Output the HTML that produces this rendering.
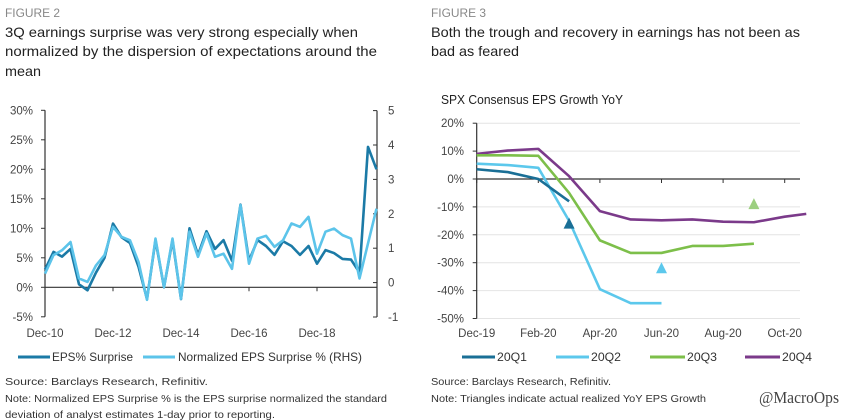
<!DOCTYPE html>
<html><head><meta charset="utf-8">
<style>
html,body{margin:0;padding:0;background:#fff;}
svg{display:block;font-family:"Liberation Sans Narrow","Liberation Sans",sans-serif;}
</style></head>
<body>
<svg id="root" width="843" height="420" viewBox="0 0 843 420" xmlns="http://www.w3.org/2000/svg">
  <g>
    <text x="5" y="17" font-size="12" fill="#888" textLength="55" lengthAdjust="spacingAndGlyphs">FIGURE 2</text>
    <text x="5" y="37" font-size="14" fill="#222" textLength="353" lengthAdjust="spacingAndGlyphs">3Q earnings surprise was very strong especially when</text>
    <text x="5" y="56" font-size="14" fill="#222" textLength="372" lengthAdjust="spacingAndGlyphs">normalized by the dispersion of expectations around the</text>
    <text x="5" y="76" font-size="14" fill="#222" textLength="36" lengthAdjust="spacingAndGlyphs">mean</text>
  </g>
  <g>
    <text x="431" y="17" font-size="12" fill="#888" textLength="55" lengthAdjust="spacingAndGlyphs">FIGURE 3</text>
    <text x="431" y="37" font-size="14" fill="#222" textLength="369" lengthAdjust="spacingAndGlyphs">Both the trough and recovery in earnings has not been as</text>
    <text x="431" y="56" font-size="14" fill="#222" textLength="88" lengthAdjust="spacingAndGlyphs">bad as feared</text>
    <text x="441" y="104" font-size="12.5" fill="#222" textLength="182" lengthAdjust="spacingAndGlyphs">SPX Consensus EPS Growth YoY</text>
  </g>
  <g id="c1"></g>
  <g id="c2"></g>
  <g>
    <line x1="18" y1="357" x2="50" y2="357" stroke="#1b7aa6" stroke-width="3"/>
    <text x="52" y="361" font-size="12" fill="#333" textLength="81" lengthAdjust="spacingAndGlyphs">EPS% Surprise</text>
    <line x1="143" y1="357" x2="175" y2="357" stroke="#5cc4ea" stroke-width="3"/>
    <text x="178" y="361" font-size="12" fill="#333" textLength="184" lengthAdjust="spacingAndGlyphs">Normalized EPS Surprise % (RHS)</text>
  </g>
  <g>
    <line x1="462" y1="357" x2="495" y2="357" stroke="#1a6f96" stroke-width="3"/>
    <text x="497" y="361" font-size="12" fill="#333" textLength="30" lengthAdjust="spacingAndGlyphs">20Q1</text>
    <line x1="556" y1="357" x2="589" y2="357" stroke="#5cc8ec" stroke-width="3"/>
    <text x="591" y="361" font-size="12" fill="#333" textLength="30" lengthAdjust="spacingAndGlyphs">20Q2</text>
    <line x1="650" y1="357" x2="685" y2="357" stroke="#7dbf4a" stroke-width="3"/>
    <text x="687" y="361" font-size="12" fill="#333" textLength="30" lengthAdjust="spacingAndGlyphs">20Q3</text>
    <line x1="745" y1="357" x2="780" y2="357" stroke="#7b3a8a" stroke-width="3"/>
    <text x="782" y="361" font-size="12" fill="#333" textLength="30" lengthAdjust="spacingAndGlyphs">20Q4</text>
  </g>
  <g>
    <text x="5" y="385" font-size="10.5" fill="#333" textLength="203" lengthAdjust="spacingAndGlyphs">Source: Barclays Research, Refinitiv.</text>
    <text x="5" y="402" font-size="10.5" fill="#333" textLength="382" lengthAdjust="spacingAndGlyphs">Note: Normalized EPS Surprise % is the EPS surprise normalized the standard</text>
    <text x="5" y="418" font-size="10.5" fill="#333" textLength="270" lengthAdjust="spacingAndGlyphs">deviation of analyst estimates 1-day prior to reporting.</text>
    <text x="431" y="385" font-size="10.5" fill="#333" textLength="180" lengthAdjust="spacingAndGlyphs">Source: Barclays Research, Refinitiv.</text>
    <text x="431" y="402" font-size="10.5" fill="#333" textLength="275" lengthAdjust="spacingAndGlyphs">Note: Triangles indicate actual realized YoY EPS Growth</text>
    <text x="759" y="403" font-size="17" fill="#444" font-family="Liberation Serif, serif" textLength="80" lengthAdjust="spacingAndGlyphs">@MacroOps</text>
  </g>
</svg>
<script>
const NS="http://www.w3.org/2000/svg";
// Chart 1 data
const c1XLabels=["Dec-10","Dec-12","Dec-14","Dec-16","Dec-18"];
const c1LeftTicks=[30,25,20,15,10,5,0,-5];
const c1RightTicks=[5,4,3,2,1,0,-1];
const epsSurprise=[3,6,5.2,6.5,0.5,-0.5,2.5,5,10.8,8.5,7.5,3.5,-2,8,0,8,-2,10,5.5,9.5,6.5,8,4.5,14,4.5,8,7,5.5,7.8,7,5.5,7,4,6.3,5.8,4.8,4.7,2.5,23.8,20];
const normSurprise=[0.26,0.8,0.94,1.18,0.12,0.02,0.5,0.8,1.62,1.33,1.23,0.6,-0.5,1.28,-0.13,1.28,-0.47,1.48,0.75,1.43,0.75,0.84,0.4,2.25,0.55,1.28,1.36,1.04,1.23,1.72,1.62,1.91,0.84,1.48,1.57,1.38,1.28,0.12,1.14,2.15];
// Chart 2 data (x in months since Dec-19)
const c2XLabels=["Dec-19","Feb-20","Apr-20","Jun-20","Aug-20","Oct-20"];
const c2YTicks=[20,10,0,-10,-20,-30,-40,-50];
const q1X=[0,1,2,2.5,3], q1Y=[3.5,2.5,0,-4,-8];
const q2X=[0,1,2,3,4,5,6], q2Y=[5.5,5,4,-15,-39.5,-44.5,-44.5];
const q3X=[0,1,2,3,4,5,6,7,8,9], q3Y=[8.5,8.5,8.3,-5,-22,-26.5,-26.5,-24,-24,-23.2];
const q4X=[0,1,2,3,4,5,6,7,8,9,10,10.7], q4Y=[9,10.2,10.8,1,-11.5,-14.5,-14.8,-14.5,-15.3,-15.5,-13.5,-12.5];
const triX=[3,6,9], triY=[-16,-32,-9];
const triColors=["#1a6f96","#5cc8ec","#9ccf80"];

function el(p,t,a,name,txt){const e=document.createElementNS(NS,t);for(const k in a)e.setAttribute(k,a[k]);


if(txt!==undefined)e.textContent=txt;p.appendChild(e);return e;}

// Chart 1
(function(){
 const g=document.getElementById('c1');
 const x0=45,x1=377,step=8.5;
 const yL=v=>287.3-v*5.9;
 const yR=v=>282.6-v*34.4;
 const xI=i=>x0+i*step;
 el(g,'line',{x1:x0,y1:yL(30),x2:x0,y2:yL(-5),stroke:'#333','stroke-width':1.2},'left-y-axis');
 el(g,'line',{x1:x1,y1:yR(5),x2:x1,y2:yR(-1),stroke:'#333','stroke-width':1.2},'right-y-axis');
 el(g,'line',{x1:x0,y1:yL(0),x2:x1,y2:yL(0),stroke:'#333','stroke-width':1.2},'x-axis-zero-line');
 c1LeftTicks.forEach(v=>{el(g,'line',{x1:x0-4,y1:yL(v),x2:x0,y2:yL(v),stroke:'#333'},'left-y-tick');
  el(g,'text',{x:33,y:yL(v)+4,'font-size':11.5,fill:'#444','text-anchor':'end'},'left-y-tick-label',v+'%');});
 c1RightTicks.forEach(v=>{el(g,'line',{x1:x1-4,y1:yR(v),x2:x1,y2:yR(v),stroke:'#333'},'right-y-tick');
  el(g,'text',{x:388,y:yR(v)+4,'font-size':11.5,fill:'#444'},'right-y-tick-label',String(v));});
 c1XLabels.forEach((l,k)=>{const x=xI(k*8);
  el(g,'line',{x1:x,y1:yL(0),x2:x,y2:yL(0)+4,stroke:'#333'},'x-tick');
  el(g,'text',{x:x,y:337,'font-size':11.5,fill:'#444','text-anchor':'middle'},'x-tick-label',l);});
 el(g,'polyline',{points:epsSurprise.map((v,i)=>xI(i)+','+yL(v)).join(' '),fill:'none',stroke:'#1b7aa6','stroke-width':2.6,'stroke-linejoin':'round'},'eps-surprise-line');
 el(g,'polyline',{points:normSurprise.map((v,i)=>xI(i)+','+yR(v)).join(' '),fill:'none',stroke:'#5cc4ea','stroke-width':2.6,'stroke-linejoin':'round'},'normalized-surprise-line');
})();

// Chart 2
(function(){
 const g=document.getElementById('c2');
 const x0=476.7,xe=800;
 const X=m=>x0+m*30.8;
 const Y=v=>179-v*2.79;
 c2YTicks.forEach(v=>{ if(v!==0) el(g,'line',{x1:x0,y1:Y(v),x2:xe,y2:Y(v),stroke:'#e4e4e4'},'gridline');
  el(g,'line',{x1:x0-4,y1:Y(v),x2:x0,y2:Y(v),stroke:'#333'},'y-tick');
  el(g,'text',{x:464,y:Y(v)+4,'font-size':11.5,fill:'#444','text-anchor':'end'},'y-tick-label',v+'%');});
 el(g,'line',{x1:x0,y1:Y(20),x2:x0,y2:Y(-50),stroke:'#333','stroke-width':1.2},'y-axis');
 el(g,'line',{x1:x0,y1:Y(0),x2:xe,y2:Y(0),stroke:'#333','stroke-width':1.2},'x-axis-zero-line');
 c2XLabels.forEach((l,k)=>{const x=X(k*2);
  el(g,'line',{x1:x,y1:Y(0),x2:x,y2:Y(0)+4,stroke:'#333'},'x-tick');
  el(g,'text',{x:x,y:337,'font-size':11.5,fill:'#444','text-anchor':'middle'},'x-tick-label',l);});
 const series=[[q4X,q4Y,'#7b3a8a','line-20q4'],[q3X,q3Y,'#7dbf4a','line-20q3'],[q2X,q2Y,'#5cc8ec','line-20q2'],[q1X,q1Y,'#1a6f96','line-20q1']];
 series.forEach(s=>el(g,'polyline',{points:s[0].map((m,i)=>X(m)+','+Y(s[1][i])).join(' '),fill:'none',stroke:s[2],'stroke-width':2.6,'stroke-linejoin':'round'},s[3]));
 triX.forEach((m,i)=>{const x=X(m),y=Y(triY[i]);
  el(g,'polygon',{points:(x-5.5)+','+(y+5)+' '+(x+5.5)+','+(y+5)+' '+x+','+(y-6),fill:triColors[i]},'realized-triangle');});
})();
</script>
</body></html>
